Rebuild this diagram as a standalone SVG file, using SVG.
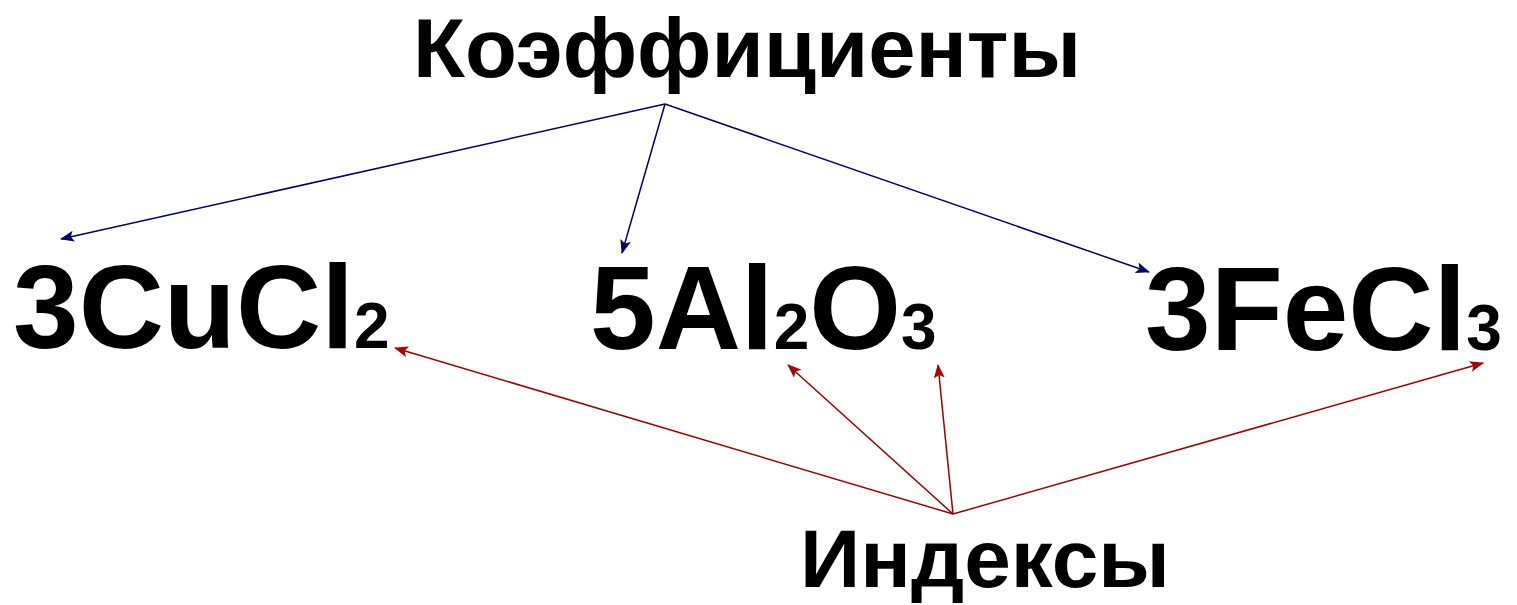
<svg xmlns="http://www.w3.org/2000/svg" width="1517" height="605" viewBox="0 0 1517 605">
<style>
.t{font-family:"Liberation Sans",Arial,sans-serif;font-weight:bold;fill:#000}
.f{font-size:118px}
.s{font-size:64px}
.b{stroke:#000066;stroke-width:1.5;fill:none}
.r{stroke:#990000;stroke-width:1.5;fill:none}
</style>
<defs>
<marker id="ab" viewBox="0 0 14 11" refX="13" refY="5.5" markerWidth="14" markerHeight="11" markerUnits="userSpaceOnUse" orient="auto"><path d="M0,0 L14,5.5 L0,11 L3,5.5 Z" fill="#000066"/></marker>
<marker id="ar" viewBox="0 0 14 11" refX="13" refY="5.5" markerWidth="14" markerHeight="11" markerUnits="userSpaceOnUse" orient="auto"><path d="M0,0 L14,5.5 L0,11 L3,5.5 Z" fill="#aa0000"/></marker>
</defs>
<rect width="1517" height="605" fill="#fff"/>
<g id="koef"><text class="t" x="413" y="77" font-size="83" textLength="668" lengthAdjust="spacingAndGlyphs">Коэффициенты</text></g>
<g id="cucl2"><text class="t f" x="13" y="348">3CuCl<tspan class="s">2</tspan></text></g>
<g id="al2o3"><text class="t f" x="590" y="349">5Al<tspan class="s">2</tspan>O<tspan class="s">3</tspan></text></g>
<g id="fecl3"><text class="t f" x="1145" y="350">3FeCl<tspan class="s">3</tspan></text></g>
<g id="index"><text class="t" x="800" y="587" font-size="82" textLength="370" lengthAdjust="spacingAndGlyphs">Индексы</text></g>
<g id="connectors">
<line class="b" x1="665" y1="104" x2="61" y2="239" marker-end="url(#ab)"/>
<line class="b" x1="665" y1="104" x2="622" y2="253" marker-end="url(#ab)"/>
<line class="b" x1="665" y1="104" x2="1149" y2="272" marker-end="url(#ab)"/>
<line class="r" x1="953" y1="514" x2="395" y2="348" marker-end="url(#ar)"/>
<line class="r" x1="953" y1="514" x2="788" y2="365" marker-end="url(#ar)"/>
<line class="r" x1="953" y1="514" x2="938" y2="365" marker-end="url(#ar)"/>
<line class="r" x1="953" y1="514" x2="1483" y2="363" marker-end="url(#ar)"/>
</g>
</svg>
